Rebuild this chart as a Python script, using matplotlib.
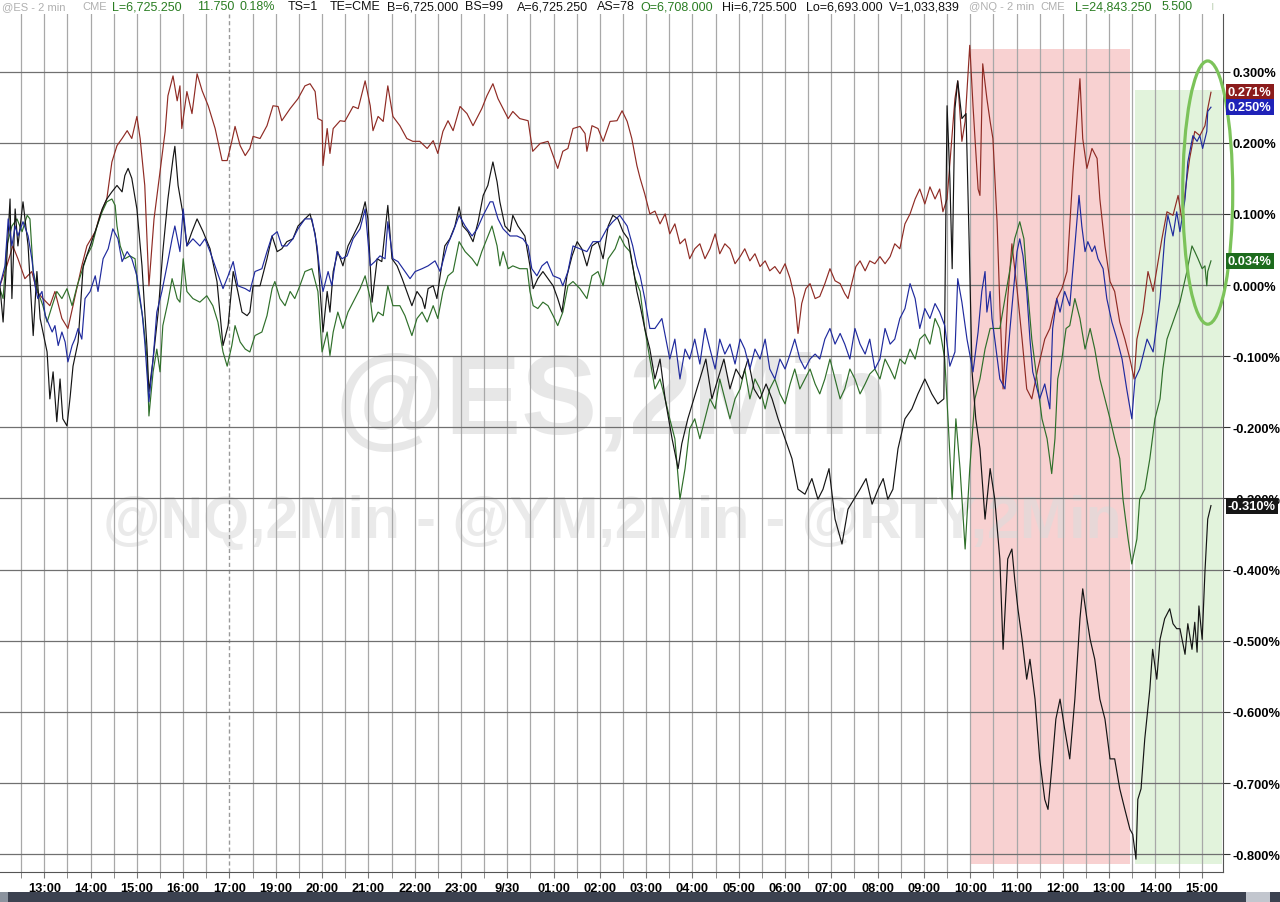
import matplotlib
matplotlib.use("Agg")
import matplotlib.pyplot as plt
from matplotlib.patches import Ellipse, Rectangle
from matplotlib.transforms import blended_transform_factory
from matplotlib.ticker import FuncFormatter

plt.rcParams['font.family'] = ['Liberation Sans', 'DejaVu Sans']

# time axis = chart hours after 13:00 (session break 17:00-18:00 collapsed)
hour_ticks = list(range(26))
hour_labels = ['13:00', '14:00', '15:00', '16:00', '17:00', '19:00', '20:00', '21:00',
               '22:00', '23:00', '9/30', '01:00', '02:00', '03:00', '04:00', '05:00',
               '06:00', '07:00', '08:00', '09:00', '10:00', '11:00', '12:00', '13:00',
               '14:00', '15:00']
half_hours = [h / 2 for h in range(-1, 51)]
pct_ticks = [-0.8, -0.7, -0.6, -0.5, -0.4, -0.3, -0.2, -0.1, 0.0, 0.1, 0.2, 0.3]

# (chart hour, % change)
red_pts = [
    (-0.96, -0.001), (-0.81, 0.027), (-0.68, 0.055), (-0.57, 0.037), (-0.42, 0.009), (-0.27, 0.019), (-0.16, -0.009), (-0.03, -0.019),
    (0.12, -0.029), (0.23, -0.009), (0.38, -0.047), (0.51, -0.061), (0.62, -0.029), (0.81, 0.027), (0.92, 0.055), (1.10, 0.075),
    (1.20, 0.098), (1.35, 0.121), (1.46, 0.173), (1.57, 0.196), (1.68, 0.206), (1.79, 0.217), (1.89, 0.206), (2.00, 0.237),
    (2.07, 0.206), (2.17, 0.140), (2.26, -0.001), (2.37, 0.093), (2.50, 0.159), (2.61, 0.216), (2.67, 0.266), (2.78, 0.294),
    (2.87, 0.259), (2.93, 0.280), (2.97, 0.220), (3.08, 0.272), (3.19, 0.241), (3.30, 0.297), (3.41, 0.273), (3.54, 0.252),
    (3.69, 0.220), (3.84, 0.175), (3.95, 0.175), (4.05, 0.202), (4.12, 0.223), (4.23, 0.196), (4.34, 0.182), (4.44, 0.192),
    (4.51, 0.209), (4.66, 0.206), (4.81, 0.224), (4.94, 0.252), (5.05, 0.251), (5.13, 0.231), (5.31, 0.248), (5.48, 0.262),
    (5.63, 0.280), (5.74, 0.283), (5.85, 0.272), (5.91, 0.234), (6.00, 0.231), (6.02, 0.168), (6.11, 0.220), (6.17, 0.185),
    (6.24, 0.220), (6.39, 0.231), (6.49, 0.230), (6.67, 0.251), (6.78, 0.248), (6.93, 0.287), (7.04, 0.252), (7.10, 0.217),
    (7.21, 0.237), (7.32, 0.230), (7.42, 0.280), (7.53, 0.237), (7.68, 0.224), (7.83, 0.206), (7.96, 0.202), (8.11, 0.202),
    (8.27, 0.192), (8.40, 0.203), (8.50, 0.185), (8.61, 0.216), (8.72, 0.231), (8.83, 0.217), (8.98, 0.251), (9.13, 0.241),
    (9.26, 0.224), (9.45, 0.248), (9.56, 0.266), (9.69, 0.283), (9.80, 0.262), (9.91, 0.248), (10.02, 0.234), (10.12, 0.244),
    (10.27, 0.234), (10.45, 0.231), (10.55, 0.188), (10.71, 0.199), (10.88, 0.202), (10.99, 0.182), (11.09, 0.164), (11.20, 0.188),
    (11.31, 0.192), (11.42, 0.220), (11.57, 0.223), (11.68, 0.213), (11.72, 0.188), (11.83, 0.224), (11.96, 0.220), (12.07, 0.202),
    (12.22, 0.230), (12.37, 0.231), (12.48, 0.245), (12.59, 0.230), (12.69, 0.206), (12.80, 0.168), (12.87, 0.150),
    (12.97, 0.128), (13.08, 0.100), (13.19, 0.104), (13.30, 0.086), (13.41, 0.100), (13.51, 0.072), (13.62, 0.086), (13.73, 0.058),
    (13.84, 0.065), (13.94, 0.037), (14.05, 0.051), (14.16, 0.058), (14.27, 0.037), (14.38, 0.051), (14.49, 0.072), (14.59, 0.044),
    (14.70, 0.058), (14.81, 0.051), (14.92, 0.030), (15.03, 0.040), (15.13, 0.051), (15.24, 0.034), (15.35, 0.044), (15.46, 0.026),
    (15.57, 0.034), (15.67, 0.020), (15.78, 0.026), (15.89, 0.016), (16.00, 0.030), (16.11, 0.009), (16.21, -0.019), (16.28, -0.068),
    (16.36, -0.026), (16.45, -0.005), (16.54, 0.002), (16.65, -0.019), (16.75, -0.016), (16.86, 0.002), (16.97, 0.023), (17.08, 0.006),
    (17.19, 0.002), (17.29, -0.012), (17.36, -0.019), (17.44, 0.002), (17.53, 0.026), (17.62, 0.034), (17.73, 0.020), (17.83, 0.034),
    (17.94, 0.030), (18.05, 0.040), (18.16, 0.030), (18.27, 0.040), (18.37, 0.058), (18.48, 0.051), (18.59, 0.086), (18.70, 0.100),
    (18.81, 0.121), (18.91, 0.135), (19.02, 0.114), (19.13, 0.138), (19.24, 0.121), (19.34, 0.135), (19.41, 0.103), (19.50, 0.121),
    (19.67, 0.262), (19.73, 0.287), (19.82, 0.202), (19.89, 0.230), (19.99, 0.337), (20.06, 0.252), (20.17, 0.135), (20.21, 0.126),
    (20.27, 0.311), (20.36, 0.262), (20.43, 0.230), (20.49, 0.206), (20.58, 0.089), (20.64, -0.029), (20.71, -0.146), (20.81, -0.019),
    (20.90, 0.058), (21.01, -0.005), (21.12, -0.076), (21.22, -0.146), (21.33, -0.160), (21.46, -0.118), (21.61, -0.076), (21.72, -0.061),
    (21.87, -0.019), (21.98, -0.005), (22.09, 0.019), (22.22, 0.159), (22.37, 0.290), (22.43, 0.206), (22.52, 0.164), (22.63, 0.192),
    (22.74, 0.178), (22.80, 0.121), (22.91, 0.055), (23.02, 0.005), (23.12, -0.009), (23.23, -0.052), (23.34, -0.076), (23.45, -0.104),
    (23.54, -0.132), (23.60, -0.076), (23.73, -0.038), (23.84, 0.019), (23.95, -0.009), (24.14, 0.065), (24.25, 0.103), (24.38, 0.098),
    (24.49, 0.126), (24.57, 0.093), (24.68, 0.150), (24.74, 0.178), (24.85, 0.216), (24.96, 0.210), (25.07, 0.224), (25.13, 0.248),
    (25.20, 0.271)]

black_pts = [
    (-0.96, -0.001), (-0.89, -0.052), (-0.81, 0.037), (-0.74, 0.121), (-0.70, -0.019), (-0.63, 0.107), (-0.57, 0.055), (-0.46, 0.117),
    (-0.35, 0.055), (-0.24, -0.071), (-0.16, 0.019), (-0.09, -0.047), (0.06, -0.094), (0.12, -0.160), (0.19, -0.122), (0.27, -0.192),
    (0.34, -0.132), (0.40, -0.188), (0.49, -0.198), (0.56, -0.156), (0.62, -0.114), (0.73, -0.080), (0.84, 0.027), (0.99, 0.055),
    (1.14, 0.083), (1.25, 0.107), (1.35, 0.121), (1.46, 0.131), (1.57, 0.140), (1.68, 0.131), (1.74, 0.154), (1.81, 0.164),
    (1.89, 0.150), (2.00, 0.107), (2.11, 0.027), (2.22, -0.090), (2.26, -0.150), (2.35, -0.104), (2.46, -0.038), (2.56, 0.047),
    (2.67, 0.121), (2.78, 0.178), (2.82, 0.195), (2.89, 0.140), (3.00, 0.098), (3.08, 0.055), (3.19, 0.075), (3.30, 0.093),
    (3.43, 0.075), (3.58, 0.051), (3.73, 0.005), (3.86, -0.085), (3.97, -0.057), (4.08, 0.019), (4.18, -0.009), (4.27, -0.038),
    (4.38, -0.043), (4.44, -0.038), (4.51, -0.001), (4.66, -0.001), (4.81, 0.037), (4.92, 0.069), (5.03, 0.047), (5.13, 0.051),
    (5.24, 0.061), (5.37, 0.065), (5.48, 0.083), (5.63, 0.093), (5.74, 0.100), (5.85, 0.072), (5.91, 0.037), (6.02, -0.066),
    (6.11, -0.009), (6.17, -0.038), (6.24, 0.019), (6.34, 0.047), (6.45, 0.027), (6.56, 0.055), (6.67, 0.069), (6.82, 0.089),
    (6.93, 0.117), (6.99, 0.093), (7.08, -0.024), (7.19, 0.037), (7.29, 0.033), (7.42, 0.112), (7.51, 0.037), (7.62, 0.027),
    (7.73, 0.009), (7.83, -0.009), (7.94, -0.029), (8.05, -0.009), (8.16, -0.019), (8.22, -0.033), (8.29, -0.005), (8.40, -0.001),
    (8.48, -0.019), (8.55, 0.013), (8.65, 0.055), (8.76, 0.065), (8.87, 0.083), (8.96, 0.110), (9.04, 0.083), (9.15, 0.075),
    (9.26, 0.061), (9.37, 0.089), (9.48, 0.126), (9.58, 0.140), (9.69, 0.173), (9.78, 0.145), (9.84, 0.117), (9.95, 0.083),
    (10.06, 0.075), (10.12, 0.098), (10.23, 0.083), (10.38, 0.069), (10.49, 0.027), (10.56, -0.005), (10.66, 0.009), (10.77, 0.019),
    (10.88, 0.009), (10.99, -0.001), (11.09, -0.019), (11.18, -0.038), (11.29, 0.013), (11.40, 0.041), (11.51, 0.061), (11.61, 0.051),
    (11.72, 0.027), (11.83, 0.055), (11.96, 0.061), (12.07, 0.037), (12.18, 0.083), (12.28, 0.098), (12.39, 0.093), (12.50, 0.075),
    (12.61, 0.065), (12.71, 0.027), (12.80, -0.009), (12.87, -0.029),
    (12.97, -0.061), (13.08, -0.090), (13.19, -0.132), (13.30, -0.104), (13.41, -0.160), (13.56, -0.216), (13.69, -0.258), (13.77, -0.223),
    (13.90, -0.188), (14.03, -0.160), (14.16, -0.132), (14.29, -0.104), (14.42, -0.160), (14.55, -0.132), (14.68, -0.104), (14.81, -0.146),
    (14.94, -0.118), (15.07, -0.132), (15.20, -0.104), (15.33, -0.146), (15.46, -0.160), (15.59, -0.139), (15.72, -0.160), (15.85, -0.188),
    (16.00, -0.216), (16.15, -0.244), (16.28, -0.287), (16.43, -0.294), (16.58, -0.272), (16.71, -0.301), (16.82, -0.287), (16.95, -0.258),
    (17.08, -0.329), (17.23, -0.364), (17.36, -0.315), (17.49, -0.301), (17.62, -0.287), (17.75, -0.272), (17.88, -0.308), (18.01, -0.287),
    (18.12, -0.272), (18.22, -0.301), (18.33, -0.287), (18.44, -0.230), (18.59, -0.188), (18.74, -0.174), (18.87, -0.153), (19.02, -0.132),
    (19.17, -0.153), (19.30, -0.167), (19.43, -0.160), (19.50, 0.252), (19.56, 0.150), (19.61, 0.023), (19.67, 0.248), (19.73, 0.287),
    (19.82, 0.234), (19.91, 0.241), (19.97, 0.079), (20.04, -0.122), (20.12, -0.188), (20.21, -0.230), (20.32, -0.329), (20.43, -0.258),
    (20.53, -0.301), (20.64, -0.385), (20.71, -0.512), (20.81, -0.385), (20.90, -0.371), (20.96, -0.413), (21.03, -0.455), (21.12, -0.498),
    (21.22, -0.554), (21.29, -0.526), (21.40, -0.582), (21.50, -0.666), (21.61, -0.723), (21.68, -0.737), (21.76, -0.680), (21.85, -0.610),
    (21.94, -0.582), (22.04, -0.624), (22.15, -0.666), (22.26, -0.582), (22.37, -0.469), (22.43, -0.427), (22.52, -0.469), (22.59, -0.498),
    (22.69, -0.526), (22.80, -0.582), (22.91, -0.610), (23.02, -0.666), (23.12, -0.666), (23.23, -0.708), (23.34, -0.737), (23.45, -0.765),
    (23.51, -0.772), (23.58, -0.807), (23.62, -0.723), (23.69, -0.708), (23.77, -0.638), (23.88, -0.568), (23.94, -0.512), (24.03, -0.554),
    (24.10, -0.498), (24.20, -0.469), (24.31, -0.455), (24.38, -0.476), (24.46, -0.483), (24.53, -0.483), (24.64, -0.519), (24.70, -0.476),
    (24.79, -0.512), (24.85, -0.474), (24.90, -0.516), (24.94, -0.451), (25.01, -0.498), (25.07, -0.403), (25.13, -0.329), (25.20, -0.310)]

blue_pts = [
    (-0.96, -0.001), (-0.85, 0.027), (-0.78, 0.093), (-0.70, 0.055), (-0.63, 0.083), (-0.57, 0.069), (-0.46, 0.089), (-0.35, 0.069),
    (-0.27, 0.037), (-0.20, -0.001), (-0.14, -0.019), (-0.05, -0.009), (0.02, -0.043), (0.08, -0.052), (0.17, -0.066), (0.23, -0.057),
    (0.30, -0.085), (0.38, -0.066), (0.45, -0.080), (0.51, -0.108), (0.60, -0.085), (0.66, -0.076), (0.73, -0.061), (0.81, -0.076),
    (0.88, -0.019), (0.99, -0.009), (1.10, 0.013), (1.16, -0.009), (1.27, 0.037), (1.38, 0.051), (1.48, 0.079), (1.59, 0.065),
    (1.68, 0.033), (1.79, 0.047), (1.89, 0.037), (2.00, 0.013), (2.11, -0.038), (2.17, -0.080), (2.26, -0.164), (2.35, -0.104),
    (2.43, -0.038), (2.54, -0.009), (2.65, 0.027), (2.76, 0.065), (2.82, 0.083), (2.93, 0.047), (3.00, 0.107), (3.08, 0.055),
    (3.21, 0.065), (3.36, 0.055), (3.47, 0.065), (3.58, 0.047), (3.73, 0.019), (3.86, -0.005), (3.97, 0.013), (4.08, 0.033),
    (4.18, -0.001), (4.34, -0.005), (4.44, -0.009), (4.55, 0.019), (4.70, 0.023), (4.81, 0.047), (4.92, 0.069), (5.03, 0.075),
    (5.13, 0.055), (5.24, 0.055), (5.37, 0.065), (5.48, 0.079), (5.63, 0.093), (5.78, 0.093), (5.89, 0.055), (5.95, 0.019),
    (6.02, -0.009), (6.13, 0.019), (6.21, -0.001), (6.32, 0.047), (6.43, 0.037), (6.54, 0.041), (6.67, 0.065), (6.82, 0.079),
    (6.93, 0.107), (7.04, 0.027), (7.14, 0.033), (7.25, 0.041), (7.36, 0.037), (7.42, 0.089), (7.53, 0.037), (7.64, 0.033),
    (7.79, 0.019), (7.90, 0.009), (8.01, 0.019), (8.16, 0.023), (8.29, 0.027), (8.44, 0.034), (8.55, 0.019), (8.70, 0.055),
    (8.83, 0.075), (8.96, 0.098), (9.09, 0.083), (9.24, 0.069), (9.35, 0.079), (9.48, 0.098), (9.63, 0.117), (9.69, 0.117),
    (9.80, 0.093), (9.91, 0.079), (10.06, 0.069), (10.21, 0.069), (10.34, 0.065), (10.45, 0.055), (10.53, 0.023), (10.64, 0.013),
    (10.75, 0.027), (10.86, 0.033), (10.99, 0.013), (11.14, 0.009), (11.20, -0.001), (11.31, 0.019), (11.42, 0.055), (11.57, 0.051),
    (11.72, 0.047), (11.85, 0.061), (12.00, 0.061), (12.15, 0.079), (12.28, 0.089), (12.43, 0.098), (12.59, 0.083), (12.71, 0.055),
    (12.80, 0.027), (12.87, 0.013),
    (12.97, -0.019), (13.08, -0.061), (13.19, -0.061), (13.34, -0.047), (13.51, -0.104), (13.62, -0.076), (13.73, -0.132), (13.84, -0.090),
    (13.94, -0.104), (14.05, -0.076), (14.16, -0.111), (14.27, -0.061), (14.38, -0.090), (14.49, -0.118), (14.59, -0.076), (14.70, -0.097),
    (14.81, -0.083), (14.92, -0.111), (15.03, -0.076), (15.13, -0.090), (15.24, -0.118), (15.35, -0.090), (15.46, -0.104), (15.57, -0.076),
    (15.67, -0.118), (15.78, -0.132), (15.89, -0.104), (16.00, -0.118), (16.11, -0.097), (16.21, -0.076), (16.32, -0.104), (16.43, -0.118),
    (16.54, -0.104), (16.65, -0.097), (16.75, -0.104), (16.86, -0.076), (16.97, -0.061), (17.08, -0.083), (17.19, -0.068), (17.29, -0.083),
    (17.40, -0.104), (17.51, -0.061), (17.62, -0.083), (17.73, -0.097), (17.83, -0.076), (17.94, -0.118), (18.05, -0.104), (18.16, -0.061),
    (18.27, -0.083), (18.37, -0.076), (18.48, -0.047), (18.59, -0.033), (18.70, 0.002), (18.81, -0.019), (18.91, -0.061), (19.02, -0.033),
    (19.13, -0.047), (19.24, -0.026), (19.34, -0.038), (19.45, -0.057), (19.56, -0.114), (19.67, -0.094), (19.73, 0.009), (19.82, -0.024),
    (19.93, -0.076), (20.06, -0.122), (20.17, -0.066), (20.25, -0.009), (20.32, 0.019), (20.36, -0.038), (20.43, -0.009), (20.47, -0.047),
    (20.53, -0.076), (20.64, -0.132), (20.75, -0.146), (20.86, -0.061), (21.01, 0.047), (21.07, 0.065), (21.14, 0.041), (21.22, -0.009),
    (21.29, -0.076), (21.35, -0.122), (21.50, -0.160), (21.61, -0.139), (21.72, -0.174), (21.78, -0.061), (21.87, -0.019), (21.94, -0.038),
    (22.04, -0.009), (22.15, -0.029), (22.26, 0.055), (22.35, 0.126), (22.41, 0.083), (22.48, 0.047), (22.54, 0.061), (22.63, 0.047),
    (22.69, 0.055), (22.76, 0.037), (22.87, 0.023), (22.95, -0.019), (23.06, -0.052), (23.17, -0.076), (23.28, -0.104), (23.38, -0.146),
    (23.49, -0.188), (23.56, -0.132), (23.66, -0.118), (23.82, -0.076), (23.95, -0.094), (24.10, -0.019), (24.20, 0.065), (24.27, 0.098),
    (24.38, 0.069), (24.46, 0.103), (24.53, 0.075), (24.64, 0.121), (24.70, 0.173), (24.81, 0.210), (24.90, 0.202), (24.96, 0.210),
    (25.02, 0.192), (25.11, 0.216), (25.13, 0.244), (25.20, 0.250)]

green_pts = [
    (-0.96, -0.005), (-0.89, -0.019), (-0.81, 0.055), (-0.70, 0.083), (-0.59, 0.093), (-0.48, 0.075), (-0.37, 0.098), (-0.31, 0.093),
    (-0.24, 0.019), (-0.14, -0.009), (-0.03, -0.029), (0.06, -0.052), (0.17, -0.029), (0.27, -0.009), (0.38, -0.019), (0.49, -0.005),
    (0.60, -0.029), (0.71, -0.001), (0.81, 0.019), (0.92, 0.041), (1.03, 0.055), (1.14, 0.083), (1.25, 0.103), (1.35, 0.117),
    (1.46, 0.121), (1.53, 0.112), (1.57, 0.083), (1.64, 0.055), (1.74, 0.037), (1.85, 0.041), (1.96, 0.037), (2.02, -0.005),
    (2.13, -0.047), (2.22, -0.104), (2.26, -0.184), (2.35, -0.122), (2.43, -0.090), (2.50, -0.122), (2.56, -0.057), (2.67, -0.024),
    (2.76, 0.009), (2.87, -0.019), (2.93, -0.024), (3.00, 0.037), (3.08, -0.009), (3.21, -0.019), (3.36, -0.024), (3.51, -0.015),
    (3.64, -0.029), (3.75, -0.052), (3.86, -0.094), (3.95, -0.114), (4.05, -0.085), (4.12, -0.057), (4.23, -0.080), (4.34, -0.090),
    (4.44, -0.094), (4.55, -0.071), (4.70, -0.066), (4.81, -0.043), (4.92, -0.005), (4.98, 0.005), (5.09, -0.019), (5.20, -0.029),
    (5.31, -0.009), (5.41, -0.019), (5.52, -0.001), (5.63, 0.019), (5.78, 0.023), (5.91, -0.009), (6.00, -0.094), (6.11, -0.066),
    (6.17, -0.099), (6.24, -0.066), (6.34, -0.038), (6.45, -0.061), (6.56, -0.038), (6.67, -0.024), (6.82, -0.005), (6.93, 0.013),
    (7.04, -0.019), (7.10, -0.052), (7.21, -0.038), (7.32, -0.043), (7.42, -0.001), (7.53, -0.029), (7.68, -0.029), (7.79, -0.043),
    (7.94, -0.071), (8.05, -0.047), (8.16, -0.038), (8.27, -0.052), (8.40, -0.029), (8.50, -0.047), (8.61, -0.009), (8.72, 0.013),
    (8.83, 0.019), (8.96, 0.061), (9.09, 0.047), (9.24, 0.037), (9.35, 0.027), (9.45, 0.047), (9.56, 0.065), (9.67, 0.083),
    (9.78, 0.055), (9.84, 0.027), (9.91, 0.047), (10.02, 0.023), (10.12, 0.027), (10.27, 0.023), (10.43, 0.023), (10.49, -0.009),
    (10.56, -0.029), (10.66, -0.033), (10.77, -0.024), (10.88, -0.029), (10.99, -0.043), (11.09, -0.057), (11.20, -0.038), (11.31, -0.001),
    (11.42, 0.005), (11.57, -0.005), (11.72, -0.019), (11.83, 0.013), (11.96, 0.019), (12.07, -0.001), (12.18, 0.037), (12.33, 0.051),
    (12.43, 0.069), (12.54, 0.055), (12.65, 0.047), (12.76, 0.009), (12.87, -0.009),
    (12.97, -0.061), (13.08, -0.104), (13.19, -0.146), (13.30, -0.132), (13.41, -0.160), (13.51, -0.188), (13.62, -0.216), (13.73, -0.301),
    (13.84, -0.258), (13.94, -0.202), (14.05, -0.188), (14.16, -0.216), (14.27, -0.188), (14.38, -0.160), (14.49, -0.174), (14.59, -0.132),
    (14.70, -0.160), (14.81, -0.188), (14.92, -0.160), (15.03, -0.146), (15.13, -0.118), (15.24, -0.160), (15.35, -0.132), (15.46, -0.146),
    (15.57, -0.174), (15.67, -0.146), (15.78, -0.132), (15.89, -0.153), (16.00, -0.167), (16.11, -0.139), (16.21, -0.118), (16.32, -0.146),
    (16.43, -0.132), (16.54, -0.118), (16.65, -0.139), (16.75, -0.153), (16.86, -0.132), (16.97, -0.104), (17.08, -0.132), (17.19, -0.160),
    (17.29, -0.146), (17.40, -0.118), (17.51, -0.132), (17.62, -0.153), (17.73, -0.139), (17.83, -0.125), (17.94, -0.118), (18.05, -0.132),
    (18.16, -0.104), (18.27, -0.118), (18.37, -0.132), (18.48, -0.104), (18.59, -0.111), (18.70, -0.090), (18.81, -0.104), (18.91, -0.076),
    (19.02, -0.069), (19.13, -0.083), (19.24, -0.047), (19.34, -0.061), (19.45, -0.104), (19.52, -0.188), (19.61, -0.301), (19.69, -0.188),
    (19.78, -0.258), (19.89, -0.371), (19.99, -0.258), (20.10, -0.160), (20.21, -0.132), (20.32, -0.090), (20.43, -0.061), (20.64, -0.061),
    (20.75, -0.019), (20.86, 0.023), (20.96, 0.065), (21.07, 0.089), (21.16, 0.065), (21.22, 0.009), (21.33, -0.076), (21.44, -0.132),
    (21.55, -0.188), (21.66, -0.216), (21.76, -0.265), (21.83, -0.216), (21.89, -0.132), (21.98, -0.104), (22.07, -0.061), (22.15, -0.057),
    (22.26, -0.019), (22.37, -0.047), (22.48, -0.090), (22.59, -0.061), (22.69, -0.090), (22.80, -0.132), (22.91, -0.160), (23.02, -0.188),
    (23.12, -0.216), (23.23, -0.244), (23.30, -0.301), (23.41, -0.357), (23.49, -0.392), (23.60, -0.357), (23.66, -0.301), (23.77, -0.287),
    (23.88, -0.244), (23.99, -0.188), (24.10, -0.160), (24.16, -0.118), (24.25, -0.076), (24.38, -0.052), (24.53, -0.024), (24.68, 0.019),
    (24.79, 0.055), (24.85, 0.047), (24.92, 0.037), (25.01, 0.023), (25.07, 0.027), (25.11, -0.001), (25.13, 0.019), (25.20, 0.034)]

series = [
    (red_pts, '#8f2b24', 0.271, '#8b1c1c'),
    (green_pts, '#2f6f2a', 0.034, '#1d6b1d'),
    (black_pts, '#141414', -0.310, '#161616'),
    (blue_pts, '#1f2a9e', 0.250, '#1f22b8'),
]

# shaded sessions (start, end, top) in chart hours / %
red_zone = (20.0, 23.45, 0.332)
green_zone = (23.56, 25.43, 0.274)
zone_bottom = -0.814

fig = plt.figure(figsize=(12.8, 9.03), dpi=100)
ax = fig.add_axes([0, 30 / 903, 1223 / 1280, 858 / 903])
ax.set_xlim(-0.957, 25.46)
ax.set_ylim(-0.825, 0.381)

for s in ['top', 'left']:
    ax.spines[s].set_visible(False)
ax.spines['bottom'].set_color('#555555')
ax.spines['right'].set_color('#555555')

# grid
for h in half_hours:
    if h == 4:
        ax.axvline(h, color='#9a9a9a', lw=1.0, ls=(0, (3, 2)), zorder=1)
    else:
        ax.axvline(h, color='#a8a8a8', lw=0.9, zorder=1)
for p in pct_ticks:
    ax.axhline(p, color='#707070', lw=0.9, zorder=1)

# session shading
ax.add_patch(Rectangle((red_zone[0], zone_bottom), red_zone[1] - red_zone[0], red_zone[2] - zone_bottom,
                       facecolor='#f8d1d1', edgecolor='none', zorder=0.6))
ax.add_patch(Rectangle((green_zone[0], zone_bottom), green_zone[1] - green_zone[0], green_zone[2] - zone_bottom,
                       facecolor='#e2f3dc', edgecolor='none', zorder=0.6))

# watermark
ax.text(0.5004, 0.5455, '@ES,2Min', transform=ax.transAxes, fontsize=82, fontweight='bold',
        color='#d8d8d8', alpha=0.6, ha='center', va='center', zorder=0.8)
ax.text(0.5004, 0.409, '@NQ,2Min - @YM,2Min - @RTY,2Min', transform=ax.transAxes, fontsize=42.5,
        fontweight='bold', color='#dcdcdc', alpha=0.6, ha='center', va='center', zorder=0.8)

# price lines
for pts, col, last, box in series:
    t = [p[0] for p in pts]
    v = [p[1] for p in pts]
    ax.plot(t, v, color=col, lw=0.85, zorder=3)

# axes ticks
ax.set_xticks(hour_ticks)
ax.set_xticklabels(hour_labels)
ax.set_xticks(half_hours, minor=True)
ax.tick_params(axis='x', which='both', length=4, color='#777777', pad=3,
               labelsize=9.3)
for lab in ax.get_xticklabels():
    lab.set_fontweight('bold')

ax.set_yticks(pct_ticks)
ax.yaxis.set_major_formatter(FuncFormatter(lambda v, _: f'{v:.3f}%'))
ax.tick_params(axis='y', left=False, labelleft=False, right=True, labelright=True,
               length=5, color='#333333', pad=2, labelsize=9.3)
for lab in ax.get_yticklabels():
    lab.set_fontweight('bold')

# last value tags
trans = blended_transform_factory(ax.transAxes, ax.transData)
for pts, col, last, box in series:
    ax.text(1.004, last, f'{last:.3f}%', transform=trans, ha='left', va='center',
            color='white', fontsize=9.3, fontweight='bold', zorder=8, clip_on=False,
            bbox=dict(boxstyle='square,pad=0.16', facecolor=box, edgecolor='none'))

# highlight ring
ax.add_patch(Ellipse((25.13, 0.130), 1.08, 0.370, facecolor='none', edgecolor='#7cc35a',
                     lw=2.3, zorder=6, clip_on=False))

# header line: (left px, text, colour, size)
header = [
    (2, '@ES - 2 min', '#b0b0b0', 8), (82, 'CME', '#b0b0b0', 8),
    (112, 'L=6,725.250', '#2a7d22', 9), (197, '11.750', '#2a7d22', 9), (240, '0.18%', '#2a7d22', 9),
    (288, 'TS=1', '#111111', 9), (330, 'TE=CME', '#111111', 9), (387, 'B=6,725.000', '#111111', 9),
    (465, 'BS=99', '#111111', 9), (517, 'A=6,725.250', '#111111', 9), (597, 'AS=78', '#111111', 9),
    (640, 'O=6,708.000', '#2a7d22', 9), (722, 'Hi=6,725.500', '#111111', 9),
    (806, 'Lo=6,693.000', '#111111', 9), (889, 'V=1,033,839', '#111111', 9),
    (969, '@NQ - 2 min', '#b0b0b0', 8), (1040, 'CME', '#b0b0b0', 8),
    (1075, 'L=24,843.250', '#2a7d22', 9), (1162, '5.500', '#2a7d22', 9),
    (1211, 'ı', '#c8d8c0', 9),
]
for x_px, txt, col, size in header:
    fig.text(x_px / 1280, 1 - 7.5 / 903, txt, color=col, fontsize=size, ha='left', va='center')

# bottom scroll bar
fig.patches.append(Rectangle((0, 0), 1, 10 / 903, transform=fig.transFigure,
                             facecolor='#3c4250', edgecolor='none'))
fig.patches.append(Rectangle((0, 0), 8 / 1280, 10 / 903, transform=fig.transFigure,
                             facecolor='#8b939e', edgecolor='none'))
fig.patches.append(Rectangle((1246 / 1280, 0), 24 / 1280, 10 / 903, transform=fig.transFigure,
                             facecolor='#c2c6ce', edgecolor='none'))

fig.savefig('out.png', dpi=100)
